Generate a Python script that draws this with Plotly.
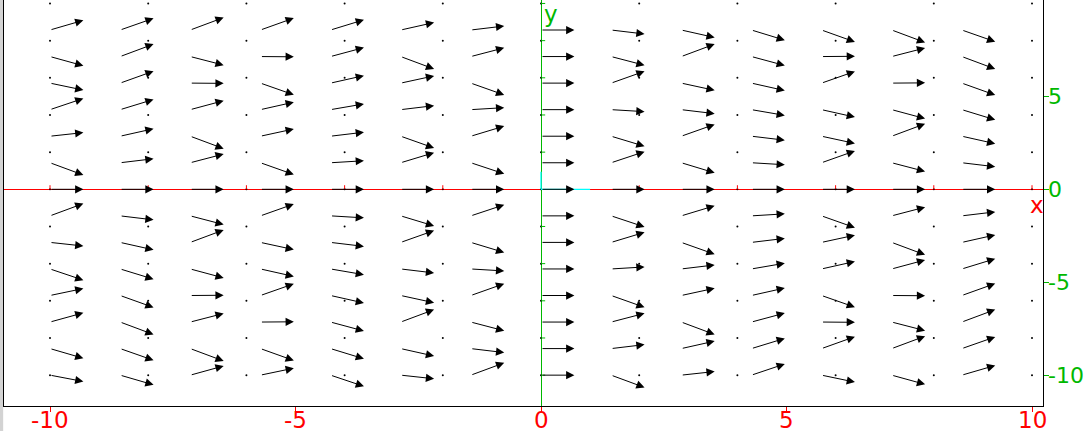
import plotly.graph_objects as go

# Grid of the direction field (tails of the arrows)
x_grid = [-10.0, -8.571, -7.143, -5.714, -4.286, -2.857, -1.429, 0.0,
          1.429, 2.857, 4.286, 5.714, 7.143, 8.571]
y_grid = [-10.0, -8.571, -7.143, -5.714, -4.286, -2.857, -1.429, 0.0,
          1.429, 2.857, 4.286, 5.714, 7.143, 8.571]

# slope dy/dx read at each grid point, rows follow y_grid (bottom to top)
slopes = [
    [-0.51, -0.78, 0.74, 0.56, -0.90, -0.29, 0.99, 0, -0.99, 0.29, 0.90, -0.56, -0.74, 0.78],
    [-0.78, -0.94, -1.00, -0.96, -0.82, -0.60, -0.32, 0, 0.32, 0.60, 0.82, 0.96, 1.00, 0.94],
    [0.74, -1.00, 0.69, 0.02, -0.72, 1.00, -0.70, 0, 0.70, -1.00, 0.72, -0.02, -0.69, 1.00],
    [0.56, -0.96, 0.02, 0.94, -0.60, -0.58, 0.95, 0, -0.95, 0.58, 0.60, -0.94, -0.02, 0.96],
    [-0.90, -0.82, -0.72, -0.60, -0.46, -0.32, -0.16, 0, 0.16, 0.32, 0.46, 0.60, 0.72, 0.82],
    [-0.29, -0.60, 1.00, -0.58, -0.32, 0.95, -0.81, 0, 0.81, -0.95, 0.32, 0.58, -1.00, 0.60],
    [0.99, -0.32, -0.70, 0.95, -0.16, -0.81, 0.89, 0, -0.89, 0.81, 0.16, -0.95, 0.70, 0.32],
    [0, 0, 0, 0, 0, 0, 0, 0, 0, 0, 0, 0, 0, 0],
    [-0.99, 0.32, 0.70, -0.95, 0.16, 0.81, -0.89, 0, 0.89, -0.81, -0.16, 0.95, -0.70, -0.32],
    [0.29, 0.60, -1.00, 0.58, 0.32, -0.95, 0.81, 0, -0.81, 0.95, -0.32, -0.58, 1.00, -0.60],
    [0.90, 0.82, 0.72, 0.60, 0.46, 0.32, 0.16, 0, -0.16, -0.32, -0.46, -0.60, -0.72, -0.82],
    [-0.56, 0.96, -0.02, -0.94, 0.60, 0.58, -0.95, 0, 0.95, -0.58, -0.60, 0.94, 0.02, -0.96],
    [-0.74, 1.00, -0.69, -0.02, 0.72, -1.00, 0.70, 0, -0.70, 1.00, -0.72, 0.02, 0.69, -1.00],
    [0.78, 0.94, 1.00, 0.96, 0.82, 0.60, 0.32, 0, -0.32, -0.60, -0.82, -0.96, -1.00, -0.94],
]

dot_vals = [-10, -8, -6, -4, -2, 0, 2, 4, 6, 8, 10]
minor_vals = [-10, -8, -6, -4, -2, 2, 4, 6, 8, 10]
x_tick_vals = [-10, -5, 0, 5, 10]
x_tick_text = ["-10", "-5", "0", "5", "10"]
y_tick_vals = [-10, -5, 0, 5]
y_tick_text = ["-10", "-5", "0", "5"]

RED = "#ff0000"
GREEN = "#00b800"
CYAN = "#00ffff"
FONT = "DejaVu Sans"
DX = 0.68
DYS = 0.67

fig = go.Figure()

# dotted grid
fig.add_trace(go.Scatter(
    x=[xv for yv in dot_vals for xv in dot_vals],
    y=[yv for yv in dot_vals for xv in dot_vals],
    mode="markers", marker=dict(size=2, color="black"),
    hoverinfo="skip", showlegend=False))

# small ticks on the axes through the origin
tx, ty = [], []
for v in minor_vals:
    tx += [v, v, None]
    ty += [0, 0.22, None]
fig.add_trace(go.Scatter(x=tx, y=ty, mode="lines", line=dict(color=RED, width=1),
                         hoverinfo="skip", showlegend=False))
gx, gy = [], []
for v in minor_vals:
    gx += [0, 0.085, None]
    gy += [v, v, None]
fig.add_trace(go.Scatter(x=gx, y=gy, mode="lines", line=dict(color=GREEN, width=1),
                         hoverinfo="skip", showlegend=False))
# unit segments
fig.add_trace(go.Scatter(x=[0, 1.0], y=[0, 0], mode="lines", line=dict(color=CYAN, width=1.3),
                         hoverinfo="skip", showlegend=False))
fig.add_trace(go.Scatter(x=[0, 0], y=[0, 0.95], mode="lines", line=dict(color=CYAN, width=1.3),
                         hoverinfo="skip", showlegend=False))

annotations = []
for j, yv in enumerate(y_grid):
    for i, xv in enumerate(x_grid):
        f = slopes[j][i]
        annotations.append(dict(
            x=xv + DX, y=yv + DYS * f, ax=xv, ay=yv,
            xref="x", yref="y", axref="x", ayref="y",
            text="", showarrow=True, arrowhead=2, arrowsize=1.65,
            arrowwidth=1, arrowcolor="black", standoff=0, startstandoff=0))

# bottom tick labels
for v, t in zip(x_tick_vals, x_tick_text):
    annotations.append(dict(x=v, y=-0.034, xref="x", yref="paper", text=t,
                            showarrow=False, xanchor="center", yanchor="middle",
                            font=dict(family=FONT, size=23, color=RED)))
# right tick labels
for v, t in zip(y_tick_vals, y_tick_text):
    annotations.append(dict(x=1, y=v, xref="paper", yref="y", text=t, xshift=3,
                            showarrow=False, xanchor="left", yanchor="middle",
                            font=dict(family=FONT, size=22, color=GREEN)))

annotations.append(dict(x=10.1, y=-0.85, xref="x", yref="y", text="x", showarrow=False,
                        font=dict(family=FONT, size=23, color=RED),
                        xanchor="center", yanchor="middle"))
annotations.append(dict(x=0.03, y=9.45, xref="x", yref="y", text="y", showarrow=False,
                        font=dict(family=FONT, size=23, color=GREEN),
                        xanchor="left", yanchor="middle"))

fig.update_layout(
    width=1086, height=431,
    margin=dict(l=4, r=43, t=0, b=25, pad=0, autoexpand=False),
    paper_bgcolor="white", plot_bgcolor="white",
    showlegend=False,
    annotations=annotations,
    shapes=[dict(type="rect", xref="paper", yref="paper",
                 x0=-0.0040, x1=-0.0008, y0=-0.07, y1=1.0,
                 fillcolor="#d3d3d3", line=dict(width=0), layer="below")],
    xaxis=dict(range=[-10.937, 10.224], showgrid=False, automargin=False,
               zeroline=True, zerolinecolor=GREEN, zerolinewidth=1,
               showline=True, linecolor="black", linewidth=1,
               ticks="outside", ticklen=5, tickcolor=RED, tickwidth=1,
               tickvals=x_tick_vals, showticklabels=False),
    yaxis=dict(range=[-11.66, 10.186], showgrid=False, side="right", automargin=False,
               zeroline=True, zerolinecolor=RED, zerolinewidth=1,
               showline=True, mirror=True, linecolor="black", linewidth=1,
               ticks="outside", ticklen=5, tickcolor=GREEN, tickwidth=1,
               tickvals=y_tick_vals, showticklabels=False),
)

fig.write_html("out.html", config={"displayModeBar": False},
               post_script="document.body.style.margin='0';document.body.style.overflow='hidden';")
